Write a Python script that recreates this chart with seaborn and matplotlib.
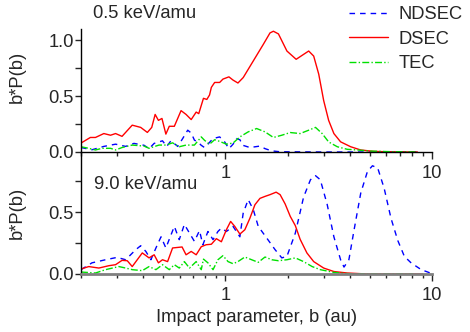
import numpy as np
import pandas as pd
import matplotlib
matplotlib.use('Agg')
import matplotlib.pyplot as plt
import matplotlib.ticker as mticker
from matplotlib.lines import Line2D
import seaborn as sb

#-------------------------------------------------------------------------------------------------
# data
#-------------------------------------------------------------------------------------------------
# 0.5 keV/amu
b_dsec_05 = [0.2, 0.222, 0.235, 0.258, 0.278, 0.294, 0.316, 0.354, 0.389, 0.419, 0.44, 0.457, 0.474,
             0.493, 0.515, 0.535, 0.566, 0.61, 0.645, 0.683, 0.722, 0.743, 0.783, 0.813, 0.838, 0.855,
             0.887, 0.938, 0.973, 1.04, 1.089, 1.15, 1.22, 1.364, 1.525, 1.644, 1.707, 1.806, 1.985,
             2.2, 2.39, 2.53, 2.675, 2.83, 2.99, 3.16, 3.35, 3.61, 4.04, 4.52, 5.2, 6.0, 7.0, 8.5]
p_dsec_05 = [0.08, 0.13, 0.13, 0.165, 0.15, 0.165, 0.14, 0.24, 0.22, 0.175, 0.22, 0.336, 0.283,
             0.30, 0.16, 0.23, 0.23, 0.37, 0.336, 0.29, 0.357, 0.343, 0.48, 0.47, 0.51, 0.578,
             0.622, 0.622, 0.652, 0.672, 0.643, 0.617, 0.666, 0.814, 0.962, 1.065, 1.08, 1.056, 0.903,
             0.829, 0.873, 0.903, 0.858, 0.696, 0.46, 0.283, 0.165, 0.091, 0.047, 0.018, 0.006, 0.002, 0.001, 0.0]

b_ndsec_05 = [0.2, 0.226, 0.258, 0.294, 0.329, 0.361, 0.404, 0.427, 0.452, 0.496, 0.52, 0.545, 0.588,
              0.621, 0.657, 0.683, 0.708, 0.735, 0.764, 0.792, 0.823, 0.871, 0.938, 0.992, 1.04, 1.089,
              1.13, 1.175, 1.214, 1.314, 1.47, 1.555, 1.676, 1.84, 3.0, 5.0, 8.5]
p_ndsec_05 = [0.04, 0.02, 0.05, 0.07, 0.05, 0.077, 0.06, 0.03, 0.077, 0.10, 0.05, 0.10, 0.05,
              0.12, 0.195, 0.17, 0.106, 0.09, 0.06, 0.04, 0.07, 0.12, 0.135, 0.09, 0.03, 0.07,
              0.12, 0.11, 0.06, 0.04, 0.053, 0.03, 0.01, 0.002, 0.0, 0.0, 0.0]

b_tec_05 = [0.2, 0.218, 0.235, 0.253, 0.278, 0.294, 0.316, 0.354, 0.404, 0.427, 0.477, 0.515, 0.555,
            0.598, 0.645, 0.708, 0.764, 0.792, 0.838, 0.887, 0.938, 1.011, 1.089, 1.175, 1.289, 1.416,
            1.555, 1.707, 1.875, 2.06, 2.3, 2.53, 2.73, 2.94, 3.16, 3.48, 3.89, 4.36, 5.05, 6.33, 8.5]
p_tec_05 = [0.047, 0.033, 0.018, 0.033, 0.033, 0.018, 0.04, 0.062, 0.053, 0.033, 0.062, 0.062, 0.082,
            0.047, 0.062, 0.062, 0.135, 0.105, 0.07, 0.11, 0.095, 0.07, 0.08, 0.135, 0.18, 0.21,
            0.18, 0.13, 0.15, 0.174, 0.165, 0.195, 0.22, 0.165, 0.09, 0.047, 0.024, 0.018, 0.008, 0.003, 0.0]

# 9.0 keV/amu
b_dsec_90 = [0.2, 0.218, 0.244, 0.273, 0.294, 0.316, 0.335, 0.354, 0.396, 0.427, 0.452, 0.474, 0.496,
             0.525, 0.555, 0.617, 0.645, 0.683, 0.722, 0.764, 0.807, 0.855, 0.904, 0.956, 1.011, 1.06,
             1.11, 1.175, 1.242, 1.314, 1.39, 1.47, 1.555, 1.644, 1.76, 1.84, 1.946, 2.06, 2.18, 2.3,
             2.48, 2.675, 2.99, 3.35, 3.89, 4.87, 9.0]
p_dsec_90 = [0.04, 0.06, 0.048, 0.067, 0.075, 0.11, 0.107, 0.06, 0.17, 0.13, 0.155, 0.09, 0.115,
             0.10, 0.21, 0.218, 0.155, 0.182, 0.155, 0.22, 0.236, 0.24, 0.285, 0.26, 0.357, 0.424,
             0.384, 0.322, 0.357, 0.45, 0.559, 0.61, 0.626, 0.64, 0.66, 0.64, 0.565, 0.465, 0.39, 0.28,
             0.17, 0.10, 0.048, 0.02, 0.008, 0.0, 0.0]

b_ndsec_90 = [0.2, 0.226, 0.263, 0.299, 0.329, 0.368, 0.389, 0.412, 0.436, 0.461, 0.488, 0.515, 0.566,
              0.598, 0.633, 0.67, 0.708, 0.749, 0.778, 0.823, 0.871, 0.92, 0.956, 1.011, 1.089, 1.175,
              1.219, 1.289, 1.364, 1.442, 1.585, 1.74, 1.875, 1.985, 2.18, 2.39, 2.58, 2.73, 2.88,
              3.11, 3.35, 3.61, 3.75, 3.96, 4.19, 4.52, 4.87, 5.15, 5.46, 5.87, 6.33, 6.83, 7.35,
              7.93, 8.87, 9.93]
p_ndsec_90 = [0.035, 0.09, 0.115, 0.134, 0.115, 0.196, 0.228, 0.182, 0.115, 0.21, 0.30, 0.21, 0.384,
              0.277, 0.40, 0.33, 0.263, 0.35, 0.236, 0.343, 0.277, 0.343, 0.37, 0.343, 0.384, 0.30,
              0.49, 0.60, 0.52, 0.384, 0.29, 0.196, 0.13, 0.142, 0.33, 0.62, 0.76, 0.793, 0.76,
              0.56, 0.30, 0.115, 0.056, 0.115, 0.35, 0.653, 0.827, 0.873, 0.855, 0.69, 0.45, 0.27, 0.142,
              0.089, 0.035, 0.005]

b_tec_90 = [0.2, 0.235, 0.263, 0.305, 0.329, 0.354, 0.396, 0.427, 0.461, 0.496, 0.535, 0.566, 0.598,
            0.633, 0.67, 0.722, 0.764, 0.783, 0.823, 0.871, 0.92, 0.973, 1.03, 1.089, 1.15, 1.242,
            1.34, 1.442, 1.555, 1.676, 1.806, 1.985, 2.18, 2.39, 2.63, 2.88, 3.35, 3.89, 5.05, 8.1]
p_tec_90 = [0.016, 0.008, 0.035, 0.06, 0.048, 0.035, 0.027, 0.06, 0.035, 0.075, 0.035, 0.075, 0.048,
            0.10, 0.048, 0.10, 0.035, 0.12, 0.09, 0.035, 0.115, 0.148, 0.10, 0.083, 0.10, 0.137,
            0.115, 0.094, 0.137, 0.115, 0.107, 0.115, 0.13, 0.10, 0.06, 0.035, 0.013, 0.003, 0.0, 0.0]

series_names = ['NDSEC', 'DSEC', 'TEC']
panel_titles = ['0.5 keV/amu', '9.0 keV/amu']

def make_df(bs, ps):
    parts = []
    for name, b, p in zip(series_names, bs, ps):
        parts.append(pd.DataFrame({'b': b, 'p': p, 'series': name}))
    return pd.concat(parts, ignore_index=True)

df05 = make_df([b_ndsec_05, b_dsec_05, b_tec_05], [p_ndsec_05, p_dsec_05, p_tec_05])
df90 = make_df([b_ndsec_90, b_dsec_90, b_tec_90], [p_ndsec_90, p_dsec_90, p_tec_90])

#-------------------------------------------------------------------------------------------------
# plotting
#-------------------------------------------------------------------------------------------------
sb.set_style('ticks')
plt.rcParams['font.family'] = ['Liberation Sans', 'DejaVu Sans']
FS = 13.2
plt.rcParams['font.size'] = FS

colors = {'NDSEC': '#0000ff', 'DSEC': '#ff0000', 'TEC': '#00e000'}
dashes = {'NDSEC': (4, 3.6), 'DSEC': '', 'TEC': (5, 1.6, 1, 1.6)}

fig = plt.figure(figsize=(4.7, 3.32), dpi=100)
ax1 = fig.add_axes([81/470, (332-152)/332, 351/470, 123/332])
ax2 = fig.add_axes([81/470, (332-274)/332, 351/470, 122/332])

for ax, df in [(ax1, df05), (ax2, df90)]:
    sb.lineplot(data=df, x='b', y='p', hue='series', style='series', palette=colors,
                dashes=dashes, estimator=None, sort=False, lw=1.0, ax=ax, legend=False)
    ax.set_xscale('log')
    ax.set_xlim(0.2, 10)
    ax.xaxis.set_major_locator(mticker.LogLocator(base=10))
    ax.xaxis.set_minor_locator(mticker.LogLocator(base=10, subs=np.arange(2, 10)))
    ax.xaxis.set_major_formatter(mticker.FuncFormatter(lambda v, pos: '%g' % v))
    ax.xaxis.set_minor_formatter(mticker.NullFormatter())
    ax.yaxis.set_major_locator(mticker.MultipleLocator(0.5))
    ax.yaxis.set_minor_locator(mticker.MultipleLocator(0.25))
    ax.yaxis.set_major_formatter(mticker.FormatStrFormatter('%.1f'))
    ax.tick_params(which='major', length=5, width=1, pad=4, labelsize=FS)
    ax.tick_params(which='minor', length=3, width=1)
    ax.tick_params(axis='y', which='both', length=4, pad=1)
    for s in ['top', 'right']:
        ax.spines[s].set_visible(False)
    for s in ['left', 'bottom']:
        ax.spines[s].set_color('black')
        ax.spines[s].set_linewidth(1)
    ax.set_ylabel('b*P(b)', fontsize=FS)
    ax.set_xlabel('')
    ax.patch.set_alpha(0)

ax1.set_ylim(0, 1.1)
ax2.set_ylim(0, 0.984)
ax2.spines['bottom'].set_color('#808080')
ax2.spines['bottom'].set_linewidth(2)
ax1.yaxis.set_label_coords(-0.157, 0.61)
ax2.yaxis.set_label_coords(-0.157, 0.5)
ax2.set_xlabel('Impact parameter, b (au)', fontsize=FS, labelpad=4)

fig.text(93/470, 1 - 13/332, panel_titles[0], fontsize=FS, va='center', ha='left')
fig.text(94/470, 1 - 184.5/332, panel_titles[1], fontsize=FS, va='center', ha='left')

handles = []
for n in series_names:
    h = Line2D([], [], color=colors[n], lw=1.0)
    if dashes[n]:
        h.set_dashes(dashes[n])
    handles.append(h)
fig.legend(handles, series_names, loc='upper left', bbox_to_anchor=(349/470, 0.981),
           frameon=False, borderpad=0, borderaxespad=0, handlelength=2.1,
           handletextpad=0.6, labelspacing=0.4, fontsize=FS)

plt.savefig('out.png', dpi=100)
